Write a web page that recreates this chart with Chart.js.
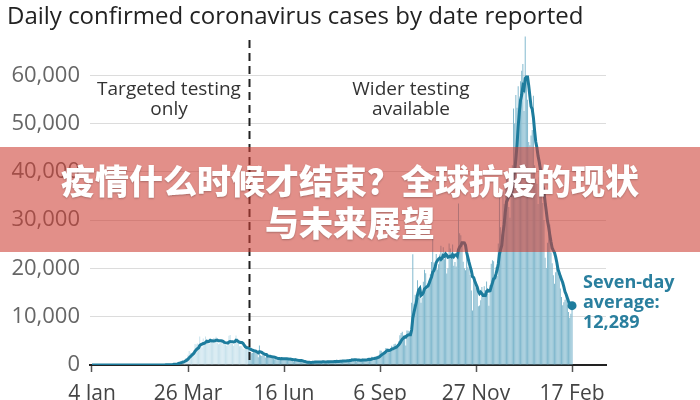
<!DOCTYPE html>
<html><head><meta charset="utf-8">
<script src="https://cdn.jsdelivr.net/npm/chart.js@4/dist/chart.umd.min.js"></script>
<style>html,body{margin:0;padding:0;background:#fff}#wrap{width:700px;height:400px;position:relative}</style>
</head><body><div id="wrap"><canvas id="c" width="700" height="400"></canvas></div>
<script>
const titleText = 'Daily confirmed coronavirus cases by date reported';
const bannerLines = ['疫情什么时候才结束？全球抗疫的现状', '与未来展望'];
const phaseLabels = [['Targeted testing', 'only'], ['Wider testing', 'available']];
const latestAverageLabel = ['Seven-day', 'average:', '12,289'];

// Daily confirmed cases by date reported, 4 Jan 2020 – 17 Feb 2021
const jan2020 = [0,0,0,0,0,0,0,0,0,0,0,0,0,0,0,0,0,0,0,0,0,0,0,0,0,0,0,2];
const feb2020 = [0,0,0,0,0,1,0,0,0,4,1,0,1,0,0,0,0,0,0,0,0,0,0,4,0,3,2,3,5];
const mar2020 = [13,4,11,34,29,48,45,69,43,62,77,130,208,342,251,152,407,676,643,714,1035,665,967,1427,1452,2129,2885,2546,2433,2619,3009];
const apr2020 = [4324,4244,4450,3735,5903,3802,3634,5491,4344,5900,5233,5288,4342,5252,4603,4617,5599,5525,5850,4676,4301,4451,4583,5386,4913,4463,4309,3996,4076,6032];
const may2020 = [6201,4806,4339,3985,4406,6111,5614,4649,3896,3923,3877,3403,3242,3446,3560,3450,3534,2684,2412,2472,2615,3287,2959,2405,1625,4043,2013,1887,2095,1936,1570];
const jun2020 = [1653,1871,1871,1805,1650,1557,1326,1205,1387,1003,1266,1541,1425,1514,1056,1279,1115,1218,1346,1295,1221,958,874,653,1118,1380,890,901,815,689];
const jul2020 = [829,576,544,624,516,352,581,630,512,642,820,650,530,598,538,642,687,827,726,580,445,560,769,768,767,747,685,581,763,846,880];
const aug2020 = [743,744,938,670,892,950,871,758,1062,816,1148,1009,1441,1012,1077,1040,713,1089,812,1182,1033,1288,1041,853,1184,1048,1522,1276,1108,1715,1406];
const sep2020 = [1295,1508,1735,1940,1813,2988,2948,2460,2659,2919,3539,3497,3330,2621,3105,3991,3395,4322,4422,3899,4368,4926,6178,6634,6874,6042,5693,4044,7143,7108];
const oct2020 = [6914,6968,12872,22961,12594,14542,14162,17540,13864,15166,12872,13972,17234,19724,18980,15650,16171,16982,18804,21331,26688,21242,20530,23012,19790,20890,22885,24701,23065,24405,21915];
const nov2020 = [23254,18950,20018,25177,24141,23287,24957,20572,21350,20412,22950,33470,27301,26860,24962,21363,20051,19609,22915,20252,19875,18662,15450,11299,18213,17555,16022,15871,12155,12330];
const dec2020 = [13430,16170,14879,16298,15539,17272,14718,12282,16578,20964,21672,21502,18447,20263,18450,25161,35383,28507,27052,35928,33364,36804,39237,39036,32725,30501,34693,41385,53135,50023,55892];
const jan2021 = [53285,57725,54990,58784,60916,62322,52618,68053,59937,54940,46169,45533,47525,48682,55761,41346,38598,37535,33355,38905,37892,40261,33552,30004,22195,20089,25308,28680,29079,23275,21088];
const feb2021 = [18607,16840,19202,20634,19114,18262,15845,14104,12364,13013,13494,15144,13308,10972,9765,10625,12718];

const xTickDays = [0, 82, 164, 246, 328, 410];          // days since 4 Jan 2020
const xTickLabels = ['4 Jan', '26 Mar', '16 Jun', '6 Sep', '27 Nov', '17 Feb'];
const yTickValues = [0, 10000, 20000, 30000, 40000, 50000, 60000];
const widerTestingDay = 134;                              // 17 May 2020

const daily = [].concat(jan2020, feb2020, mar2020, apr2020, may2020, jun2020, jul2020, aug2020, sep2020, oct2020, nov2020, dec2020, jan2021, feb2021);
const barPoints = daily.map((v, i) => ({x: i, y: v}));
const avgPoints = daily.map((v, i) => {
  const w = daily.slice(Math.max(0, i - 6), i + 1);
  return {x: i, y: w.reduce((a, b) => a + b, 0) / w.length};
});

const LINE = '#1d7c9d';
const FONT = '"Open Sans", "Noto Sans", sans-serif';

const annot = {
  id: 'annot',
  afterDatasetsDraw(chart) {
    const c = chart.ctx, x = chart.scales.x, a = chart.chartArea;
    c.save();
    const dx = Math.round(x.getPixelForValue(widerTestingDay)) + 0.5;
    c.strokeStyle = '#222'; c.lineWidth = 2; c.setLineDash([8, 5]);
    c.beginPath(); c.moveTo(dx, 40); c.lineTo(dx, a.bottom); c.stroke();
    c.setLineDash([]);
    c.fillStyle = '#333'; c.font = '19px ' + FONT; c.textAlign = 'center'; c.textBaseline = 'middle';
    c.fillText(phaseLabels[0][0], 169, 90); c.fillText(phaseLabels[0][1], 169, 110);
    c.fillText(phaseLabels[1][0], 411, 90); c.fillText(phaseLabels[1][1], 411, 110);
    const pts = chart.getDatasetMeta(0).data;
    const last = pts[pts.length - 1];
    c.fillStyle = LINE; c.beginPath(); c.arc(last.x, last.y, 4.5, 0, Math.PI * 2); c.fill();
    c.fillStyle = '#2a7f9e'; c.font = 'bold 18px ' + FONT; c.textAlign = 'left';
    c.fillText(latestAverageLabel[0], 583, 283);
    c.fillText(latestAverageLabel[1], 583, 303);
    c.fillText(latestAverageLabel[2], 583, 323);
    c.restore();
  },
  afterDraw(chart) {
    const c = chart.ctx;
    c.save();
    c.fillStyle = '#222'; c.font = '24px ' + FONT; c.textAlign = 'left'; c.textBaseline = 'middle';
    c.fillText(titleText, 7, 17);
    c.fillStyle = 'rgba(205,62,52,0.58)';
    c.fillRect(0, 147, 700, 105);
    c.fillStyle = '#fff'; c.font = '900 34px "Noto Sans CJK SC"'; c.textAlign = 'center';
    c.shadowColor = 'rgba(0,0,0,0.25)'; c.shadowBlur = 2; c.shadowOffsetY = 1;
    c.fillText(bannerLines[0], 350, 181);
    c.fillText(bannerLines[1], 350, 223);
    c.restore();
  }
};

new Chart(document.getElementById('c').getContext('2d'), {
  type: 'bar',
  data: {
    datasets: [
      {type: 'line', data: avgPoints, borderColor: LINE, borderWidth: 3, pointRadius: 0, tension: 0, order: 0},
      {type: 'bar', data: barPoints, backgroundColor: (ctx) => (ctx.raw && ctx.raw.x < widerTestingDay) ? '#c8e2ec' : '#82b9ce',
        barPercentage: 0.85, categoryPercentage: 1, order: 1}
    ]
  },
  options: {
    responsive: false, animation: false, devicePixelRatio: 1,
    layout: {padding: {top: 27, right: 94, left: 0, bottom: 0}},
    plugins: {legend: {display: false}, tooltip: {enabled: false}},
    scales: {
      x: {
        type: 'linear', min: -1.7, max: 439, offset: false,
        afterBuildTicks: (s) => { s.ticks = xTickDays.map(v => ({value: v})); },
        ticks: {callback: (v) => { const k = xTickDays.indexOf(v); return k >= 0 ? xTickLabels[k] : ''; },
          font: {family: FONT, size: 21}, color: '#444', padding: 9, maxRotation: 0, autoSkip: false},
        grid: {offset: false, drawOnChartArea: false, drawTicks: true, tickLength: 7, tickColor: '#555', tickWidth: 1.5},
        border: {color: '#222', width: 2},
        afterFit: (s) => { s.height = 35; }
      },
      y: {
        min: 0, max: 70000,
        afterBuildTicks: (s) => { s.ticks = yTickValues.map(v => ({value: v})); },
        ticks: {callback: (v) => v.toLocaleString('en-US'), font: {family: FONT, size: 22}, color: '#666', padding: 10},
        grid: {color: '#dcdcdc', drawTicks: false},
        border: {display: false},
        afterFit: (s) => { s.width = 90; }
      }
    }
  },
  plugins: [annot]
});
</script></body></html>
